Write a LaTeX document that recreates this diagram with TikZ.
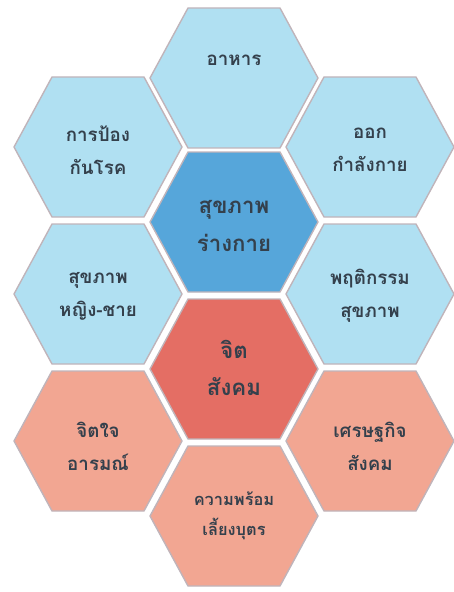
\documentclass[tikz,border=0pt]{standalone}
\usepackage{fontspec}
\usepackage{xcolor}
\newfontfamily\thaifont[Script=Thai]{Loma}

\definecolor{skyhex}{RGB}{176,224,242}
\definecolor{bluehex}{RGB}{86,166,218}
\definecolor{salmonhex}{RGB}{242,166,146}
\definecolor{redhex}{RGB}{228,110,100}
\definecolor{hexline}{RGB}{192,180,186}
\definecolor{hextext}{RGB}{52,64,76}

\tikzset{
  hexagon/.style={insert path={+(-84,0) -- +(-46,-70) -- +(46,-70) -- +(84,0) -- +(46,70) -- +(-46,70) -- cycle}},
  cell/.style={draw=hexline, line width=1.2pt, line join=round},
  celltext/.style={font=\thaifont\bfseries\fontsize{16}{28}\selectfont, text=hextext, align=center},
  coretext/.style={celltext, font=\thaifont\bfseries\fontsize{19}{32}\selectfont}
}

\begin{document}
\begin{tikzpicture}[x=0.03cm, y=-0.03cm]
  \useasboundingbox (0,0) rectangle (454,592);

  % Physical health cells
  \draw[cell, fill=skyhex] (234,78) [hexagon];
  \node[celltext] (food) at (234,60) {อาหาร};

  \draw[cell, fill=skyhex] (98,147) [hexagon];
  \node[celltext] (prevent) at (98,150) {การป้อง\\กันโรค};

  \draw[cell, fill=skyhex] (370,147) [hexagon];
  \node[celltext] (exercise) at (370,150) {ออก\\กำลังกาย};

  \draw[cell, fill=skyhex] (98,294) [hexagon];
  \node[celltext] (gender) at (98,296) {สุขภาพ\\หญิง-ชาย};

  \draw[cell, fill=skyhex] (370,294) [hexagon];
  \node[celltext] (behave) at (370,296) {พฤติกรรม\\สุขภาพ};

  % Core cells
  \draw[cell, fill=bluehex] (234,222) [hexagon];
  \node[coretext] (body) at (234,226) {สุขภาพ\\ร่างกาย};

  \draw[cell, fill=redhex] (234,369) [hexagon];
  \node[coretext] (social) at (234,368) {จิต\\สังคม};

  % Mental / social cells
  \draw[cell, fill=salmonhex] (98,441) [hexagon];
  \node[celltext] (mind) at (98,446) {จิตใจ\\อารมณ์};

  \draw[cell, fill=salmonhex] (370,441) [hexagon];
  \node[celltext] (economy) at (370,446) {เศรษฐกิจ\\สังคม};

  \draw[cell, fill=salmonhex] (234,516) [hexagon];
  \node[celltext, font=\thaifont\bfseries\fontsize{14}{26}\selectfont] (parent) at (234,516) {ความพร้อม\\เลี้ยงบุตร};

\end{tikzpicture}
\end{document}
